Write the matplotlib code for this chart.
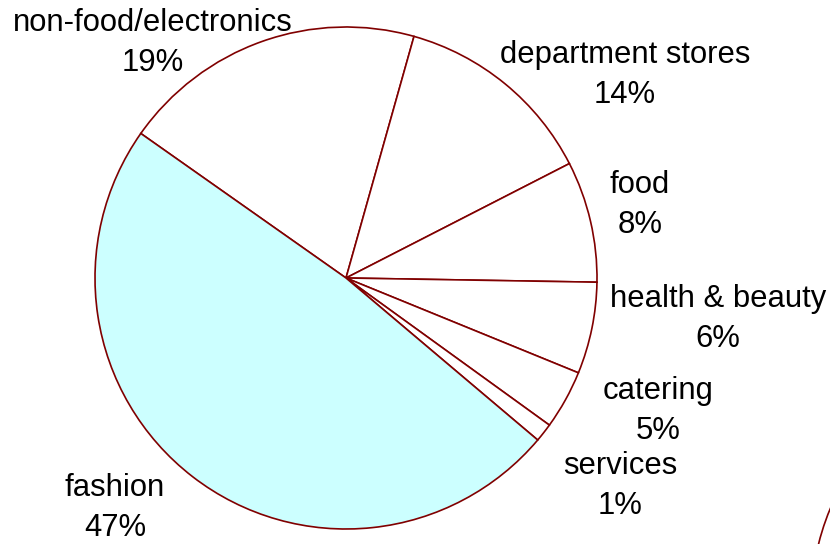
import matplotlib.pyplot as plt
from matplotlib.patches import Circle

plt.rcParams['font.family'] = ['Liberation Sans', 'DejaVu Sans']

# sectors, clockwise from the fashion/non-food edge
sectors = ['non-food/electronics', 'department stores', 'food', 'health & beauty',
           'catering', 'services', 'fashion']
shares = [19.6, 13.1, 7.8, 5.9, 3.8, 1.2, 48.6]   # wedge sizes as drawn
pct_text = ['19%', '14%', '8%', '6%', '5%', '1%', '47%']
fills = ['white', 'white', 'white', 'white', 'white', 'white', '#ccffff']

# label centres in pixels (x right, y down)
label_xy = [(153, 43), (625, 75), (640, 205), (718, 319),
            (658, 411), (620, 486), (115, 508)]

W, H = 830, 544
fig = plt.figure(figsize=(W / 100, H / 100), dpi=100)
ax = fig.add_axes([0, 0, 1, 1])

ax.pie(shares, colors=fills, startangle=144.84, counterclock=False,
       center=(346, H - 278), radius=251,
       wedgeprops=dict(edgecolor='#800000', linewidth=1.2))

for name, pct, (x, y) in zip(sectors, pct_text, label_xy):
    ax.text(x, H - y, name + '\n' + pct, ha='center', va='center',
            fontsize=22.3, linespacing=1.45, color='black')

# edge of the neighbouring chart, cut off at the bottom right
ax.add_patch(Circle((1062, H - 605), 251, fill=False,
                    edgecolor='#800000', linewidth=1.2))

ax.set_xlim(0, W)
ax.set_ylim(0, H)
ax.set_aspect('auto')
ax.axis('off')

fig.savefig('out.png', dpi=100)
